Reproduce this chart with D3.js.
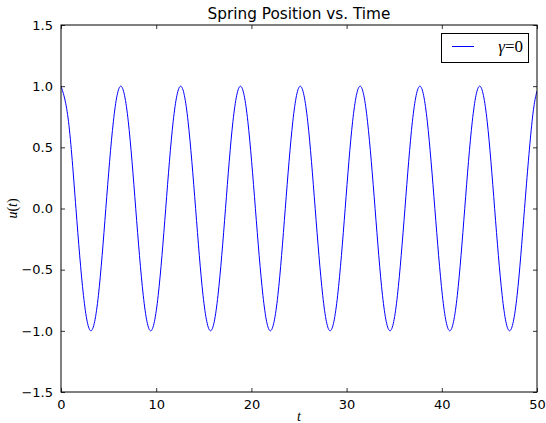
<!DOCTYPE html>
<html><head><meta charset="utf-8">
<script src="https://cdn.jsdelivr.net/npm/d3@7"></script>
<style>body{margin:0;background:#fff}svg{display:block}</style>
</head><body>
<svg id="c" width="546" height="423"></svg>
<script>
const tValues = [0,0.79,1.57,2.36,3.14,3.93,4.71,5.50,6.28,7.07,7.85,8.64,9.42,10.21,11.00,11.78,12.57,13.35,14.14,14.92,15.71,16.49,17.28,18.06,18.85,19.63,20.42,21.21,21.99,22.78,23.56,24.35,25.13,25.92,26.70,27.49,28.27,29.06,29.85,30.63,31.42,32.20,32.99,33.77,34.56,35.34,36.13,36.91,37.70,38.48,39.27,40.06,40.84,41.63,42.41,43.20,43.98,44.77,45.55,46.34,47.12,47.91,48.69,49.48,50];
const uValues = [1,0.71,0,-0.71,-1,-0.71,0,0.71,1,0.71,0,-0.71,-1,-0.71,0,0.71,1,0.71,0,-0.71,-1,-0.71,0,0.71,1,0.71,0,-0.71,-1,-0.71,0,0.71,1,0.71,0,-0.71,-1,-0.71,0,0.71,1,0.71,0,-0.71,-1,-0.71,0,0.71,1,0.71,0,-0.71,-1,-0.71,0,0.71,1,0.71,0,-0.71,-1,-0.71,0,0.71,0.96];
const xTicks = [0,10,20,30,40,50];
const yTicks = [-1.5,-1.0,-0.5,0.0,0.5,1.0,1.5];
const title = "Spring Position vs. Time";

const svg = d3.select("#c");
const L=61,R=537,T=25,B=392;
const x = d3.scaleLinear().domain([0,50]).range([L,R]);
const y = d3.scaleLinear().domain([-1.5,1.5]).range([B,T]);
const fmtY = d => d.toFixed(1).replace("-","\u2212");

svg.append("clipPath").attr("id","pc").append("rect").attr("x",L).attr("y",T).attr("width",R-L).attr("height",B-T);
const data = tValues.map((t,i)=>[t,uValues[i]]);
svg.append("path").datum(data).attr("clip-path","url(#pc)")
  .attr("fill","none").attr("stroke","#0000ff").attr("stroke-width",1)
  .attr("d", d3.line().x(d=>x(d[0])).y(d=>y(d[1])).curve(d3.curveNatural));

const font = "DejaVu Sans, sans-serif";
function styleAxis(g){
  g.select(".domain").remove();
  g.selectAll(".tick line").attr("stroke","#000").attr("stroke-width",0.8);
  g.selectAll(".tick text").attr("font-family",font).attr("font-size",13).attr("fill","#000");
}
svg.append("g").attr("transform",`translate(0,${B})`).call(d3.axisBottom(x).tickValues(xTicks).tickSize(-4).tickPadding(8).tickFormat(d3.format("d"))).call(styleAxis);
svg.append("g").attr("transform",`translate(0,${T})`).call(d3.axisTop(x).tickValues(xTicks).tickSize(-4).tickFormat("")).call(styleAxis);
svg.append("g").attr("transform",`translate(${L},0)`).call(d3.axisLeft(y).tickValues(yTicks).tickSize(-4).tickPadding(8).tickFormat(fmtY)).call(styleAxis);
svg.append("g").attr("transform",`translate(${R},0)`).call(d3.axisRight(y).tickValues(yTicks).tickSize(-4).tickFormat("")).call(styleAxis);

svg.append("rect").attr("x",L).attr("y",T).attr("width",R-L).attr("height",B-T).attr("fill","none").attr("stroke","#000").attr("stroke-width",1);

svg.append("text").attr("x",(L+R)/2).attr("y",T-6).attr("text-anchor","middle").attr("font-family",font).attr("font-size",15.3).text(title);

svg.append("text").attr("x",(L+R)/2).attr("y",421).attr("text-anchor","middle").attr("font-family","Liberation Serif, serif").attr("font-style","italic").attr("font-size",14).text("t");
const yl = svg.append("text").attr("transform",`translate(17,${(T+B)/2}) rotate(-90)`).attr("text-anchor","middle").attr("font-family","Liberation Serif, serif").attr("font-size",14);
yl.append("tspan").attr("font-style","italic").text("u");
yl.append("tspan").text("(");
yl.append("tspan").attr("font-style","italic").text("t");
yl.append("tspan").text(")");

const lg = svg.append("g");
lg.append("rect").attr("x",441.5).attr("y",33.5).attr("width",87).attr("height",29).attr("fill","#fff").attr("stroke","#000").attr("stroke-width",1);
lg.append("line").attr("x1",452).attr("x2",474).attr("y1",46.5).attr("y2",46.5).attr("stroke","#0000ff").attr("stroke-width",1);
const lt = lg.append("text").attr("x",523).attr("y",52).attr("text-anchor","end").attr("font-family","Liberation Serif, serif").attr("font-size",17);
lt.append("tspan").attr("font-style","italic").text("\u03b3");
lt.append("tspan").text("=0");
</script>
</body></html>
